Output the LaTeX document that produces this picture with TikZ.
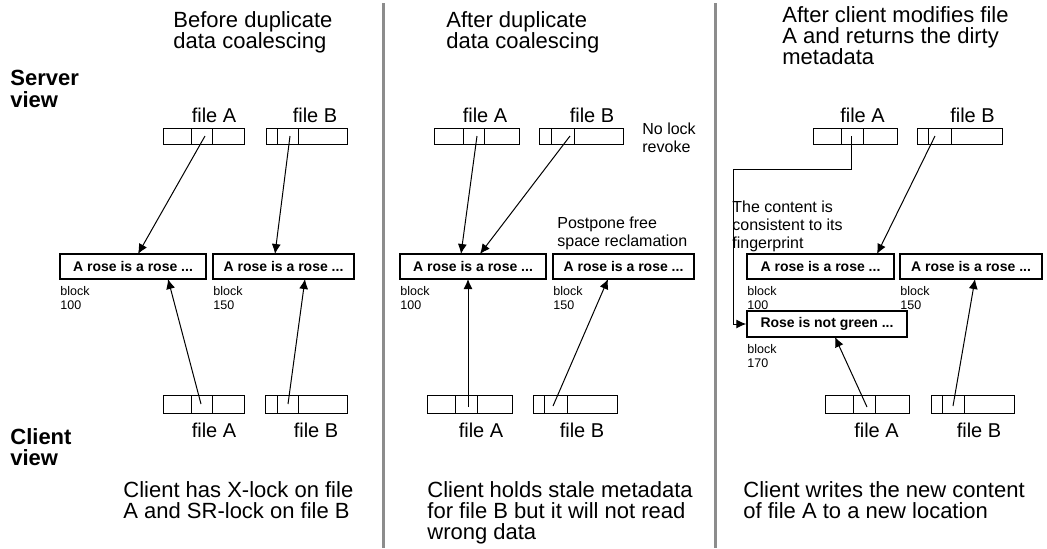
\documentclass[tikz,border=0pt]{standalone}
\usepackage{fontspec}
\setmainfont{Liberation Sans}
\usetikzlibrary{arrows.meta}
\definecolor{sepgray}{RGB}{140,140,140}

\begin{document}
\begin{tikzpicture}[x=0.5pt, y=-0.5pt,
    headtxt/.style={anchor=north west, align=left, inner sep=0pt, font={\fontsize{11}{10.5}\selectfont}},
    sidetxt/.style={anchor=north west, align=left, inner sep=0pt, font={\bfseries\fontsize{11}{10.8}\selectfont}},
    notetxt/.style={anchor=north west, align=left, inner sep=0pt, font={\fontsize{8}{9}\selectfont}},
    blocktxt/.style={anchor=north west, align=left, inner sep=0pt, font={\fontsize{6.25}{7}\selectfont}},
    fnametxt/.style={anchor=base, inner sep=0pt, font={\fontsize{10}{12}\selectfont}},
    datablock/.style={draw, line width=0.75pt, minimum height=12.5pt, inner sep=0pt, font={\bfseries\fontsize{7}{8}\selectfont}},
    rec/.style={draw, line width=0.5pt, minimum height=8pt, inner sep=0pt},
    ptr/.style={-{Latex[length=5pt,width=4.5pt]}, line width=0.5pt}]
  \useasboundingbox (0,0) rectangle (1047,548);

  % Panel separators
  \draw[sepgray, line width=1.5pt] (383,3) -- (383,548);
  \draw[sepgray, line width=1.5pt] (715,3) -- (715,548);

  % Row labels
  \node[sidetxt] (srv) at (10,70) {Server\\view};
  \node[sidetxt] (cli) at (10,428) {Client\\view};

  %% Panel 1: before coalescing
  \node[headtxt] (h1) at (173,11) {Before duplicate\\data coalescing};
  % Server metadata
  \node[fnametxt] (lsA1) at (214,122) {file A};
  \node[fnametxt] (lsB1) at (315,122) {file B};
  \node[rec, minimum width=40.5pt] (sA1) at (203.5,136) {};
  \draw (191,128) -- (191,144) (212,128) -- (212,144);
  \node[rec, minimum width=40.5pt] (sB1) at (306.5,136) {};
  \draw (277,128) -- (277,144) (298,128) -- (298,144);
  % Data blocks
  \node[datablock, minimum width=73pt] (b1) at (133,266.5) {A rose is a rose ...};
  \node[datablock, minimum width=70.5pt] (b2) at (283.5,266.5) {A rose is a rose ...};
  \node[blocktxt] (k1) at (60,286) {block\\100};
  \node[blocktxt] (k2) at (213,286) {block\\150};
  % Client metadata
  \node[rec, minimum width=40.5pt, minimum height=9pt] (cA1) at (203.5,404) {};
  \draw (191,395) -- (191,413) (212,395) -- (212,413);
  \node[rec, minimum width=41pt, minimum height=9pt] (cB1) at (306,404) {};
  \draw (277,395) -- (277,413) (298,395) -- (298,413);
  \node[fnametxt] (lcA1) at (214,437) {file A};
  \node[fnametxt] (lcB1) at (316,437) {file B};
  % Pointers
  \coordinate (sA1p) at (205,136);  \coordinate (b1t) at (138,254);
  \coordinate (sB1p) at (290,136);  \coordinate (b2t) at (275,254);
  \coordinate (cA1p) at (201,404);  \coordinate (b1b) at (168,279);
  \coordinate (cB1p) at (288,404);  \coordinate (b2b) at (305,279);
  \draw[ptr] (sA1p) -- (b1t);
  \draw[ptr] (sB1p) -- (b2t);
  \draw[ptr] (cA1p) -- (b1b);
  \draw[ptr] (cB1p) -- (b2b);
  \node[headtxt] (t1) at (123,481) {Client has X-lock on file\\A and SR-lock on file B};

  %% Panel 2: after coalescing
  \node[headtxt] (h2) at (446,11) {After duplicate\\data coalescing};
  % Server metadata
  \node[fnametxt] (lsA2) at (485,122) {file A};
  \node[fnametxt] (lsB2) at (592,122) {file B};
  \node[rec, minimum width=42.5pt] (sA2) at (476.5,136) {};
  \draw (463,128) -- (463,144) (484,128) -- (484,144);
  \node[rec, minimum width=42pt] (sB2) at (581,136) {};
  \draw (551,128) -- (551,144) (574,128) -- (574,144);
  \node[notetxt] (nolock) at (642,122) {No lock\\revoke};
  \node[notetxt] (postpone) at (557,217) {Postpone free\\space reclamation};
  % Data blocks
  \node[datablock, minimum width=73pt] (b3) at (473,266.5) {A rose is a rose ...};
  \node[datablock, minimum width=70.5pt] (b4) at (623.5,266.5) {A rose is a rose ...};
  \node[blocktxt] (k3) at (400,286) {block\\100};
  \node[blocktxt] (k4) at (553,286) {block\\150};
  % Client metadata
  \node[rec, minimum width=42.5pt, minimum height=9pt] (cA2) at (469.5,404) {};
  \draw (455,395) -- (455,413) (477,395) -- (477,413);
  \node[rec, minimum width=42pt, minimum height=9pt] (cB2) at (575,404) {};
  \draw (544,395) -- (544,413) (567,395) -- (567,413);
  \node[fnametxt] (lcA2) at (481,437) {file A};
  \node[fnametxt] (lcB2) at (582,437) {file B};
  % Pointers
  \coordinate (sA2p) at (477,136);  \coordinate (b3t) at (461,254);
  \coordinate (sB2p) at (570,136);  \coordinate (b3u) at (480,254);
  \coordinate (cA2p) at (468,407);  \coordinate (b3b) at (468,279);
  \coordinate (cB2p) at (553,406);  \coordinate (b4b) at (608,279);
  \draw[ptr] (sA2p) -- (b3t);
  \draw[ptr] (sB2p) -- (b3u);
  \draw[ptr] (cA2p) -- (b3b);
  \draw[ptr] (cB2p) -- (b4b);
  \node[headtxt] (t2) at (427,481) {Client holds stale metadata\\for file B but it will not read\\wrong data};

  %% Panel 3: after the client writes file A
  \node[headtxt] (h3) at (782,6) {After client modifies file\\A and returns the dirty\\metadata};
  % Server metadata
  \node[fnametxt] (lsA3) at (862.5,122) {file A};
  \node[fnametxt] (lsB3) at (972.5,122) {file B};
  \node[rec, minimum width=42pt] (sA3) at (855,136) {};
  \draw (841,128) -- (841,144) (863,128) -- (863,144);
  \node[rec, minimum width=42.5pt] (sB3) at (959.5,136) {};
  \draw (928,128) -- (928,144) (951,128) -- (951,144);
  \node[notetxt] (fp) at (732,200) {The content is\\consistent to its\\fingerprint};
  % Data blocks
  \node[datablock, minimum width=73.5pt] (b5) at (820.5,266.5) {A rose is a rose ...};
  \node[datablock, minimum width=71pt] (b6) at (971,266.5) {A rose is a rose ...};
  \node[blocktxt] (k5) at (747,286) {block\\100};
  \node[blocktxt] (k6) at (900,286) {block\\150};
  \node[datablock, minimum width=80pt, minimum height=13pt] (b7) at (827,324) {Rose is not green ...};
  \node[blocktxt] (k7) at (747,344) {block\\170};
  % Client metadata
  \node[rec, minimum width=42pt, minimum height=9pt] (cA3) at (867,404) {};
  \draw (853,395) -- (853,413) (875,395) -- (875,413);
  \node[rec, minimum width=41.5pt, minimum height=9pt] (cB3) at (972.5,404) {};
  \draw (942,395) -- (942,413) (964,395) -- (964,413);
  \node[fnametxt] (lcA3) at (876.5,437) {file A};
  \node[fnametxt] (lcB3) at (979,437) {file B};
  % Pointers
  \coordinate (sA3p) at (851,136);  \coordinate (bend) at (733,169);
  \coordinate (sB3p) at (935,136);  \coordinate (b5t) at (877,254);
  \coordinate (cA3p) at (867,407);  \coordinate (b7b) at (835,337);
  \coordinate (cB3p) at (953,406);  \coordinate (b6b) at (975,279);
  \draw[ptr] (sA3p) |- (bend) |- (b7.west);
  \draw[ptr] (sB3p) -- (b5t);
  \draw[ptr] (cA3p) -- (b7b);
  \draw[ptr] (cB3p) -- (b6b);
  \node[headtxt] (t3) at (743,481) {Client writes the new content\\of file A to a new location};
\end{tikzpicture}
\end{document}
